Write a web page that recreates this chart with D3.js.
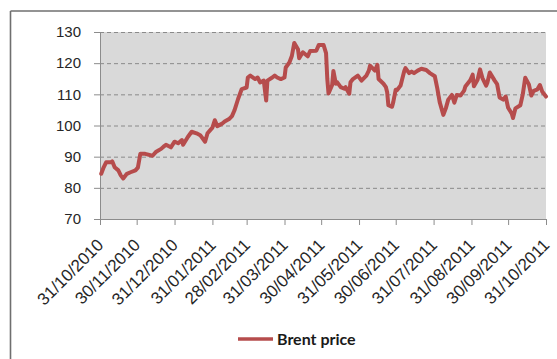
<!DOCTYPE html>
<html>
<head>
<meta charset="utf-8">
<script src="https://cdn.jsdelivr.net/npm/d3@7"></script>
<style>
  html, body { margin: 0; padding: 0; background: #ffffff; }
  svg { display: block; }
</style>
</head>
<body>
<svg id="chart" width="557" height="359"></svg>
<script>
// Brent crude daily closing prices (USD/bbl), Nov 2010 – Oct 2011
const dates = [
  "2010-11-01","2010-11-03","2010-11-05","2010-11-09","2010-11-10","2010-11-12","2010-11-15","2010-11-17",
  "2010-11-19","2010-11-22","2010-11-25","2010-11-29","2010-12-01","2010-12-03","2010-12-07","2010-12-13",
  "2010-12-16","2010-12-20","2010-12-22","2010-12-24","2010-12-28","2010-12-31","2011-01-03","2011-01-06",
  "2011-01-07","2011-01-11","2011-01-14","2011-01-18","2011-01-21","2011-01-25","2011-01-27","2011-01-31",
  "2011-02-02","2011-02-04","2011-02-08","2011-02-10","2011-02-14","2011-02-16","2011-02-18","2011-02-21",
  "2011-02-24","2011-02-28","2011-03-01","2011-03-03","2011-03-07","2011-03-09","2011-03-11","2011-03-14",
  "2011-03-16","2011-03-17","2011-03-21","2011-03-23","2011-03-25","2011-03-28","2011-03-31","2011-04-01",
  "2011-04-04","2011-04-06","2011-04-08","2011-04-11","2011-04-12","2011-04-15","2011-04-19","2011-04-21",
  "2011-04-26","2011-04-28","2011-05-02","2011-05-04","2011-05-05","2011-05-06","2011-05-09","2011-05-10",
  "2011-05-12","2011-05-13","2011-05-16","2011-05-19","2011-05-20","2011-05-23","2011-05-24","2011-05-26",
  "2011-05-30","2011-06-02","2011-06-06","2011-06-08","2011-06-09","2011-06-13","2011-06-15","2011-06-16",
  "2011-06-20","2011-06-22","2011-06-23","2011-06-24","2011-06-27","2011-06-28","2011-06-30","2011-07-01",
  "2011-07-04","2011-07-07","2011-07-08","2011-07-11","2011-07-13","2011-07-15","2011-07-18","2011-07-21",
  "2011-07-25","2011-07-28","2011-08-01","2011-08-03","2011-08-05","2011-08-08","2011-08-10","2011-08-12",
  "2011-08-15","2011-08-17","2011-08-19","2011-08-22","2011-08-25","2011-08-26","2011-08-30","2011-09-01",
  "2011-09-02","2011-09-05","2011-09-07","2011-09-09","2011-09-12","2011-09-13","2011-09-15","2011-09-19",
  "2011-09-21","2011-09-23","2011-09-26","2011-09-28","2011-09-30","2011-10-03","2011-10-04","2011-10-06",
  "2011-10-10","2011-10-12","2011-10-14","2011-10-17","2011-10-19","2011-10-21","2011-10-24","2011-10-26",
  "2011-10-28","2011-10-31"
];

const brentPrice = [
  84.5, 86.6, 88.2, 88.2, 88.5, 86.6, 85.6, 84.0,
  83.0, 84.5, 85.0, 85.6, 86.5, 90.9, 90.9, 90.3,
  91.6, 92.5, 93.2, 93.8, 93.0, 94.8, 94.3, 95.3,
  93.8, 96.4, 98.0, 97.5, 96.9, 94.8, 97.5, 99.3,
  101.7, 99.8, 100.6, 101.3, 102.2, 103.0, 104.8, 108.5,
  111.7, 112.2, 115.4, 116.0, 114.9, 115.4, 113.8, 114.4,
  108.0, 114.4, 115.4, 116.0, 115.4, 114.9, 115.4, 118.6,
  120.2, 122.3, 126.5, 124.5, 121.6, 123.5, 122.2, 123.9,
  124.0, 125.8, 125.8, 123.2, 115.0, 110.3, 113.0, 117.5,
  113.4, 113.9, 112.3, 111.8, 112.3, 110.2, 113.9, 114.9,
  116.0, 114.4, 116.0, 117.6, 119.2, 117.6, 119.5, 114.9,
  113.4, 112.3, 110.7, 106.5, 106.0, 107.5, 111.5, 111.3,
  112.8, 117.5, 118.4, 116.8, 117.3, 116.8, 117.6, 118.2,
  117.8, 116.8, 115.8, 112.0, 107.5, 103.4, 105.5, 108.3,
  109.8, 107.3, 109.8, 109.6, 111.2, 112.5, 114.5, 116.3,
  112.6, 114.7, 118.0, 115.2, 112.8, 113.7, 117.0, 114.4,
  113.3, 109.0, 108.3, 109.3, 105.7, 103.8, 102.4, 105.5,
  106.5, 110.0, 115.3, 113.2, 109.6, 111.1, 111.6, 113.0,
  110.8, 109.3
];

// Month-end tick marks on the time axis
const tickDates = [
  "2010-10-31","2010-11-30","2010-12-31","2011-01-31","2011-02-28","2011-03-31",
  "2011-04-30","2011-05-31","2011-06-30","2011-07-31","2011-08-31","2011-09-30","2011-10-31"
];
const yTicks = [70, 80, 90, 100, 110, 120, 130];
const seriesName = "Brent price";

const parse = d3.timeParse("%Y-%m-%d");
const fmt = d3.timeFormat("%d/%m/%Y");
const points = dates.map((d, i) => ({ date: parse(d), value: brentPrice[i] }));

const svg = d3.select("#chart");
const plot = { left: 100, right: 546, top: 32, bottom: 219 };
const lineColor = "#b64c4c";

// Outer frame (top and left edges visible)
svg.append("line").attr("x1", 10.5).attr("x2", 557).attr("y1", 11).attr("y2", 11)
  .attr("stroke", "#6f6f6f").attr("stroke-width", 1.6);
svg.append("line").attr("x1", 10.5).attr("x2", 10.5).attr("y1", 11).attr("y2", 359)
  .attr("stroke", "#6f6f6f").attr("stroke-width", 1.6);

const x = d3.scaleTime()
  .domain([parse(tickDates[0]), parse(tickDates[tickDates.length - 1])])
  .range([plot.left, plot.right]);
const y = d3.scaleLinear().domain([70, 130]).range([plot.bottom, plot.top]);

// Plot area background
svg.append("rect")
  .attr("x", plot.left).attr("y", plot.top)
  .attr("width", plot.right - plot.left).attr("height", plot.bottom - plot.top)
  .attr("fill", "#d9d9d9");

// Dashed horizontal gridlines
svg.append("g").selectAll("line")
  .data(yTicks.filter(v => v > 70))
  .join("line")
  .attr("x1", plot.left).attr("x2", plot.right)
  .attr("y1", d => y(d) + 0.5).attr("y2", d => y(d) + 0.5)
  .attr("stroke", "#8a8a8a").attr("stroke-width", 1)
  .attr("stroke-dasharray", "4,3");

// Y axis
const yAxis = svg.append("g")
  .attr("transform", `translate(${plot.left},0)`)
  .call(d3.axisLeft(y).tickValues(yTicks).tickSize(6).tickPadding(13));
yAxis.select(".domain").attr("stroke", "#8c8c8c");
yAxis.selectAll(".tick line").attr("stroke", "#8c8c8c");
yAxis.selectAll(".tick text")
  .attr("fill", "#262626")
  .style("font-family", "'Liberation Sans', Arial, sans-serif")
  .style("font-size", "15px");

// X axis with rotated date labels
const xAxis = svg.append("g")
  .attr("transform", `translate(0,${plot.bottom})`)
  .call(d3.axisBottom(x).tickValues(tickDates.map(parse)).tickSize(6).tickFormat(fmt));
xAxis.select(".domain").attr("stroke", "#8c8c8c");
xAxis.selectAll(".tick line").attr("stroke", "#8c8c8c");
xAxis.selectAll(".tick text")
  .attr("fill", "#262626")
  .style("font-family", "'Liberation Sans', Arial, sans-serif")
  .style("font-size", "17px")
  .attr("text-anchor", "end")
  .attr("y", 0).attr("dy", 0)
  .attr("transform", "translate(4,27) rotate(-45)");

// Price line
const line = d3.line().x(d => x(d.date)).y(d => y(d.value)).curve(d3.curveLinear);
svg.append("path")
  .datum(points)
  .attr("d", line)
  .attr("fill", "none")
  .attr("stroke", lineColor)
  .attr("stroke-width", 4)
  .attr("stroke-linejoin", "round")
  .attr("stroke-linecap", "round");

// Legend
const legend = svg.append("g").attr("transform", "translate(238,339)");
legend.append("line").attr("x1", 0).attr("x2", 35).attr("y1", 0).attr("y2", 0)
  .attr("stroke", lineColor).attr("stroke-width", 3.4);
legend.append("text")
  .attr("x", 39).attr("y", 5.5)
  .attr("fill", "#1a1a1a")
  .style("font-family", "Lato, 'Open Sans', sans-serif")
  .style("font-weight", "bold")
  .style("font-size", "16px")
  .text(seriesName);
</script>
</body>
</html>
